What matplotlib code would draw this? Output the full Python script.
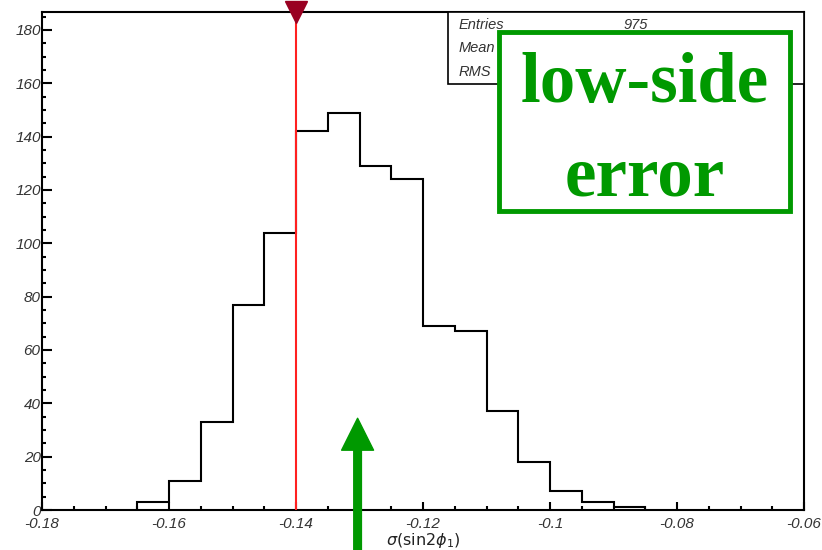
import matplotlib
matplotlib.use("Agg")
import matplotlib.pyplot as plt
from matplotlib.patches import Rectangle
from matplotlib.ticker import MultipleLocator
import matplotlib.transforms as mtrans

# ---- data ----
bin_edges = [-0.165, -0.16, -0.155, -0.15, -0.145, -0.14, -0.135, -0.13, -0.125,
             -0.12, -0.115, -0.11, -0.105, -0.10, -0.095, -0.09, -0.085]
counts = [3, 11, 33, 77, 104, 142, 149, 129, 124, 69, 67, 37, 18, 7, 3, 1]
x_ticks = [-0.18, -0.16, -0.14, -0.12, -0.10, -0.08, -0.06]
x_tick_labels = ["-0.18", "-0.16", "-0.14", "-0.12", "-0.1", "-0.08", "-0.06"]
y_ticks = [0, 20, 40, 60, 80, 100, 120, 140, 160, 180]
red_line_x = -0.14
green_arrow_x = -0.1303
green_arrow_tip = 34.4
stats_labels = ["Entries", "Mean", "RMS"]
stats_values = ["975", "", ""]
xlabel = r"$\sigma(\mathrm{sin2}\phi_1)$"
note_lines = ["low-side", "error"]

W, H = 822, 550
fig = plt.figure(figsize=(W / 100, H / 100), dpi=100)
ax = fig.add_axes([42 / W, 40 / H, (804 - 42) / W, (510 - 12) / H])

ax.stairs(counts, bin_edges, color="black", linewidth=1.5, zorder=3)
ax.set_xlim(-0.18, -0.06)
ax.set_ylim(0, 186.7)

ax.xaxis.set_minor_locator(MultipleLocator(0.005))
ax.yaxis.set_minor_locator(MultipleLocator(5))
ax.set_xticks(x_ticks)
ax.set_xticklabels(x_tick_labels)
ax.set_yticks(y_ticks)
ax.tick_params(which="both", direction="in", top=False, right=False, width=1.5,
               labelsize=11, labelcolor="#333333")
ax.tick_params(axis="y", which="major", length=7.5, pad=1)
ax.tick_params(axis="y", which="minor", length=3)
ax.tick_params(axis="x", which="major", length=6, pad=5)
ax.tick_params(axis="x", which="minor", length=3)
for lab in ax.get_xticklabels() + ax.get_yticklabels():
    lab.set_fontstyle("italic")
    lab.set_family("Liberation Sans")
for s in ax.spines.values():
    s.set_linewidth(1.5)

ax.set_xlabel(xlabel, fontsize=11.5, color="#222222", labelpad=0)

# red vertical line with marker at top
ax.axvline(red_line_x, color="#ff2020", linewidth=1.5, zorder=4)
trans = mtrans.blended_transform_factory(ax.transData, ax.transAxes)
ax.plot([red_line_x], [1.0], marker="v", markersize=16, color="#990022",
        transform=trans, clip_on=False, zorder=6)

# stats box (ROOT style)
stat_box = Rectangle((448 / W, (550 - 84) / H), (804 - 448) / W, (84 - 12) / H,
                     transform=fig.transFigure, facecolor="white",
                     edgecolor="black", linewidth=1.2, zorder=5)
fig.add_artist(stat_box)
for i, (lab, val) in enumerate(zip(stats_labels, stats_values)):
    yy = (550 - 25 - i * 23.5) / H
    fig.text(459 / W, yy, lab, fontsize=10.5, style="italic", color="#333333",
             family="Liberation Sans", va="center", zorder=6)
    if val:
        fig.text(636 / W, yy, val, fontsize=10.5, style="italic", color="#333333",
                 family="Liberation Sans", va="center", ha="center", zorder=6)

# green annotation box
green = "#009900"
gbox = Rectangle((499 / W, (550 - 211) / H), (790 - 499) / W, (211 - 32) / H,
                 transform=fig.transFigure, facecolor="white",
                 edgecolor=green, linewidth=3.5, zorder=7)
fig.add_artist(gbox)
for txt, base in zip(note_lines, [102, 195]):
    fig.text(645 / W, (550 - base) / H, txt, fontsize=51, fontweight="bold",
             family="Liberation Serif", color=green, ha="center", va="baseline",
             zorder=8)

# green arrow from bottom of figure
ax.annotate("", xy=(green_arrow_x, green_arrow_tip), xycoords="data",
            xytext=(green_arrow_x, 0), textcoords=("data", "figure pixels"),
            arrowprops=dict(facecolor=green, edgecolor=green, width=5.5,
                            headwidth=23, headlength=23, shrink=0),
            annotation_clip=False, zorder=9)

fig.savefig("out.png", dpi=100)
